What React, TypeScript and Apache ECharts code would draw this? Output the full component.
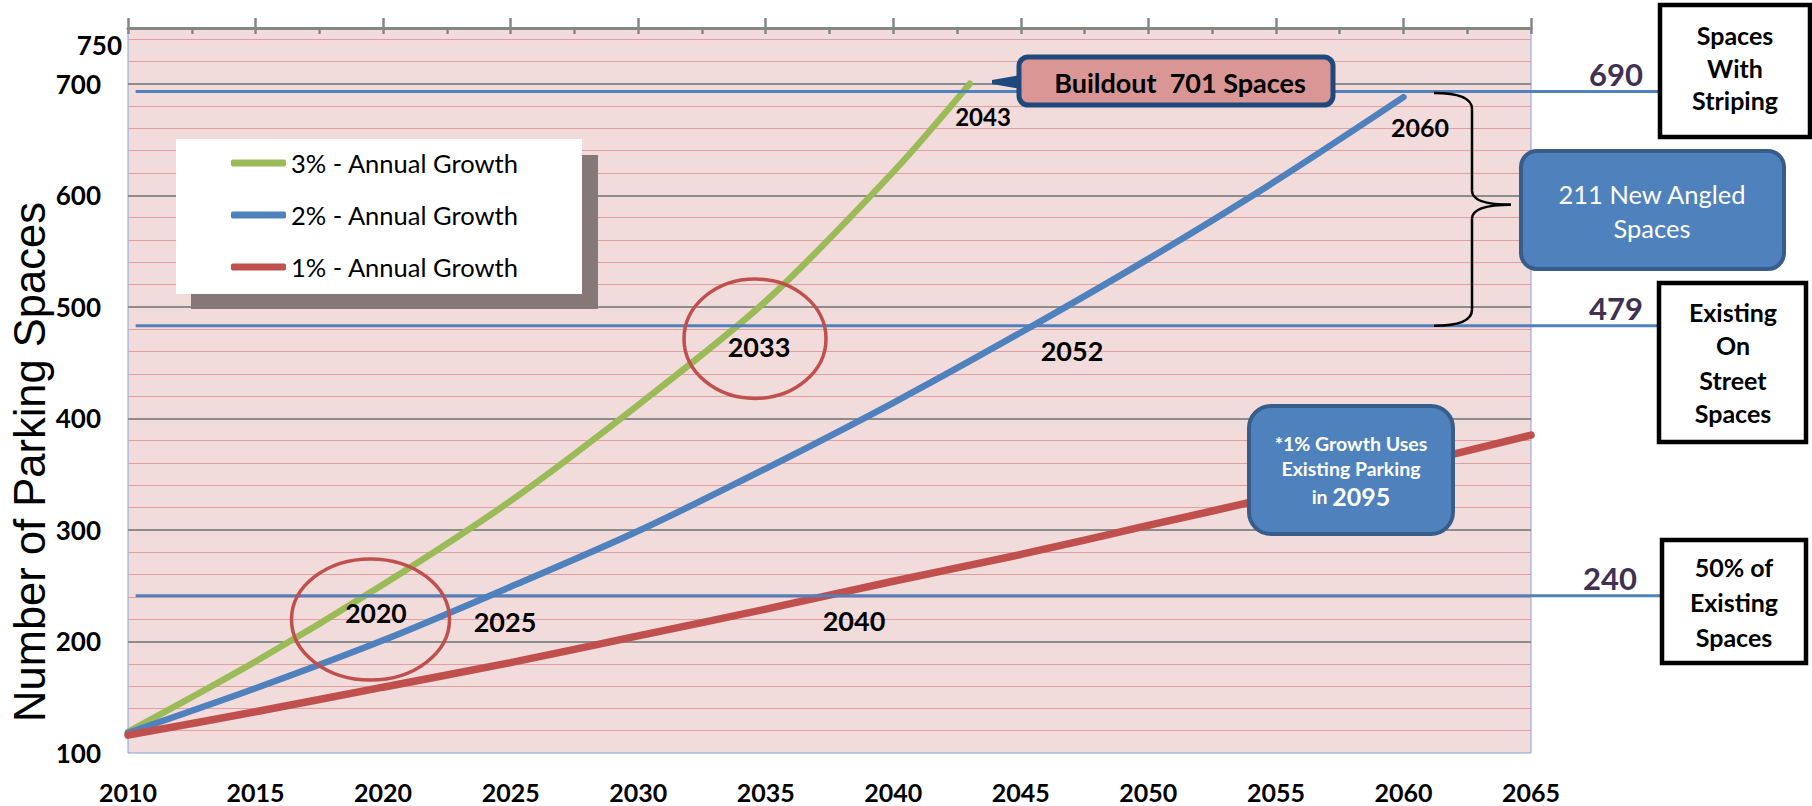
import { useEffect, useRef } from "react";
import * as echarts from "echarts";

// ---- data ----
const seriesNames = ["3% - Annual Growth", "2% - Annual Growth", "1% - Annual Growth"];
const seriesColors = ["#9BBB59", "#4F81BD", "#C0504D"];
const greenYears = [2010, 2015, 2020, 2025, 2030, 2035, 2040, 2043];
const greenValues = [119, 182, 251, 326, 412, 505, 621, 700];
const blueYears = [2010, 2015, 2020, 2025, 2030, 2035, 2040, 2045, 2050, 2055, 2060];
const blueValues = [118, 158, 201, 249, 299, 355, 414, 477, 543, 613, 688];
const redYears = [2010, 2015, 2020, 2025, 2030, 2035, 2040, 2045, 2050, 2055, 2060, 2065];
const redValues = [116, 137, 159, 181, 205, 229, 254, 278, 304, 330, 357, 385];

const refLevels = [693, 483, 241];
const refLabels = ["690", "479", "240"];
const boxTexts = [
  ["Spaces", "With", "Striping"],
  ["Existing", "On", "Street", "Spaces"],
  ["50% of", "Existing", "Spaces"],
];
const yearNotes = ["2020", "2025", "2033", "2040", "2043", "2052", "2060"];

const FONT = "Lato, 'Open Sans', sans-serif";

export default function App() {
  const ref = useRef<HTMLDivElement>(null);

  useEffect(() => {
    if (!ref.current) return;
    const chart = echarts.init(ref.current, null, { renderer: "svg" });

    const pairs = (xs: number[], ys: number[]) => xs.map((x, i) => [x, ys[i]]);
    const allData = [pairs(greenYears, greenValues), pairs(blueYears, blueValues), pairs(redYears, redValues)];
    const widths = [6.5, 6.5, 7.5];

    const option: any = {
      animation: false,
      backgroundColor: "#ffffff",
      grid: {
        left: 128,
        right: 281,
        top: 28,
        bottom: 53,
        show: true,
        backgroundColor: "#F2DCDB",
        borderColor: "#7FA6D6",
        borderWidth: 1,
      },
      legend: {
        show: true,
        data: seriesNames,
        orient: "vertical",
        left: 231,
        top: 149,
        padding: 0,
        itemWidth: 55,
        itemHeight: 7,
        itemGap: 24,
        icon: "roundRect",
        z: 6,
        textStyle: { fontFamily: FONT, fontSize: 25.5, color: "#000", lineHeight: 28 },
      },
      xAxis: [
        {
          type: "value",
          position: "bottom",
          min: 2010,
          max: 2065,
          interval: 5,
          axisLine: { show: false },
          axisTick: { show: false },
          splitLine: { show: false },
          axisLabel: {
            fontFamily: FONT,
            fontWeight: "bold",
            fontSize: 25,
            color: "#000",
            margin: 26,
            formatter: (v: number) => String(v),
          },
        },
        {
          type: "value",
          position: "top",
          min: 2010,
          max: 2065,
          interval: 5,
          axisLine: { show: true, lineStyle: { color: "#868686", width: 3 } },
          axisTick: { show: true, inside: false, length: 10, lineStyle: { color: "#868686", width: 2.5 } },
          axisLabel: { show: false },
          splitLine: { show: false },
        },
        {
          type: "value",
          position: "top",
          min: 2010,
          max: 2065,
          interval: 2.5,
          axisLine: { show: false },
          axisTick: { show: true, inside: true, length: 6, lineStyle: { color: "#868686", width: 2.5 } },
          axisLabel: { show: false },
          splitLine: { show: false },
        },
      ],
      yAxis: [
        {
          type: "value",
          min: 100,
          max: 750,
          interval: 100,
          z: 1,
          axisLine: { show: false },
          axisTick: { show: false },
          axisLabel: {
            showMaxLabel: false,
            fontFamily: FONT,
            fontWeight: "bold",
            fontSize: 26,
            color: "#000",
            margin: 27,
          },
          splitLine: { show: true, showMinLine: false, showMaxLine: false, lineStyle: { color: "#8C8C8C", width: 2 } },
        },
        {
          type: "value",
          min: 100,
          max: 750,
          interval: 20,
          z: 0,
          axisLine: { show: false },
          axisTick: { show: false },
          axisLabel: { show: false },
          splitLine: { show: true, showMinLine: false, showMaxLine: false, lineStyle: { color: "#E0A0A0", width: 1.2 } },
        },
      ],
      series: seriesNames.map((name, i) => ({
        name,
        type: "line",
        xAxisIndex: 0,
        yAxisIndex: 0,
        data: allData[i],
        showSymbol: false,
        symbol: "none",
        smooth: 0.3,
        z: 3,
        lineStyle: { color: seriesColors[i], width: widths[i], cap: "round" },
        itemStyle: { color: seriesColors[i] },
      })),
    };
    chart.setOption(option);

    const px = (x: number, y: number) =>
      chart.convertToPixel({ xAxisIndex: 0, yAxisIndex: 0 }, [x, y]) as number[];

    const txt = (text: string, x: number, y: number, size: number, opts: any = {}) => ({
      type: "text",
      z: opts.z ?? 9,
      rotation: opts.rotation ?? 0,
      x: opts.rotation ? x : 0,
      y: opts.rotation ? y : 0,
      style: {
        text,
        x: opts.rotation ? 0 : x,
        y: opts.rotation ? 0 : y,
        fill: opts.color ?? "#000",
        fontFamily: opts.family ?? FONT,
        fontSize: size,
        fontWeight: opts.weight ?? "bold",
        align: opts.align ?? "center",
        textAlign: opts.align ?? "center",
        verticalAlign: "middle",
        textVerticalAlign: "middle",
        rich: opts.rich,
      },
    });

    const els: any[] = [];

    // legend box and its shadow
    els.push({ type: "rect", z: 3, shape: { x: 191, y: 155, width: 407, height: 154 }, style: { fill: "#857876" } });
    els.push({ type: "rect", z: 3, shape: { x: 176, y: 139, width: 406, height: 155 }, style: { fill: "#FFFFFF" } });

    // reference lines
    const lineYs = refLevels.map((v) => px(2010, v)[1]);
    const lineX0 = px(2010.3, 100)[0];
    lineYs.forEach((y, i) => {
      els.push({
        type: "line",
        z: 5,
        shape: { x1: lineX0, y1: y, x2: 1660, y2: y },
        style: { stroke: "#4F81BD", lineWidth: 3 },
      });
      els.push(txt(refLabels[i], i === 2 ? 1637 : 1643, y - 18, 31, { color: "#403152", align: "right" }));
    });

    // right side boxes
    const boxes = [
      { x: 1660, y: 5, w: 150, h: 132, cx: 1735, lines: [35, 68, 100] },
      { x: 1659, y: 283, w: 147, h: 159, cx: 1733, lines: [312, 345, 380, 413] },
      { x: 1662, y: 540, w: 144, h: 123, cx: 1734, lines: [567, 602, 637] },
    ];
    boxes.forEach((b, i) => {
      els.push({
        type: "rect",
        z: 8,
        shape: { x: b.x, y: b.y, width: b.w, height: b.h },
        style: { fill: "#FFFFFF", stroke: "#000000", lineWidth: 4.5 },
      });
      boxTexts[i].forEach((t, j) => els.push(txt(t, b.cx, b.lines[j], 25)));
    });

    // brace between the 690 and 479 lines
    const yT = lineYs[0] + 1.5;
    const yB = lineYs[1];
    const yM = yT + (yB - yT) * 0.48;
    const xL = 1434, xV = 1472, xTip = 1511;
    const braceStyle = { stroke: "#000000", lineWidth: 2.5, fill: "none" };
    els.push({ type: "bezierCurve", z: 8, shape: { x1: xL, y1: yT, x2: xV, y2: yT + 16, cpx1: xV, cpy1: yT }, style: braceStyle });
    els.push({ type: "line", z: 8, shape: { x1: xV, y1: yT + 16, x2: xV, y2: yM - 14 }, style: braceStyle });
    els.push({ type: "bezierCurve", z: 8, shape: { x1: xV, y1: yM - 14, x2: xTip, y2: yM, cpx1: xV, cpy1: yM }, style: braceStyle });
    els.push({ type: "bezierCurve", z: 8, shape: { x1: xTip, y1: yM, x2: xV, y2: yM + 14, cpx1: xV, cpy1: yM }, style: braceStyle });
    els.push({ type: "line", z: 8, shape: { x1: xV, y1: yM + 14, x2: xV, y2: yB - 16 }, style: braceStyle });
    els.push({ type: "bezierCurve", z: 8, shape: { x1: xV, y1: yB - 16, x2: xL, y2: yB, cpx1: xV, cpy1: yB }, style: braceStyle });

    // 211 New Angled Spaces box
    els.push({
      type: "rect",
      z: 8,
      shape: { x: 1521, y: 151, width: 263, height: 118, r: 16 },
      style: { fill: "#4F81BD", stroke: "#385D8A", lineWidth: 4 },
    });
    els.push(txt("211 New Angled", 1652, 194, 25.5, { color: "#FFFFFF", weight: "normal" }));
    els.push(txt("Spaces", 1652, 228, 25.5, { color: "#FFFFFF", weight: "normal" }));

    // Buildout callout
    els.push({
      type: "polygon",
      z: 8,
      shape: { points: [[992, 80], [1021, 75], [1021, 89], [992, 84]] },
      style: { fill: "#1F497D" },
    });
    els.push({
      type: "rect",
      z: 8,
      shape: { x: 1019, y: 57, width: 314, height: 48, r: 9 },
      style: { fill: "#D99694", stroke: "#1F497D", lineWidth: 5 },
    });
    els.push(txt("Buildout  701 Spaces", 1180, 82, 27));

    // 1% growth callout
    els.push({
      type: "rect",
      z: 8,
      shape: { x: 1249, y: 406, width: 204, height: 128, r: 22 },
      style: { fill: "#4F81BD", stroke: "#385D8A", lineWidth: 4 },
    });
    els.push(txt("*1% Growth Uses", 1351, 443, 19.5, { color: "#FFFFFF" }));
    els.push(txt("Existing Parking", 1351, 468, 19.5, { color: "#FFFFFF" }));
    els.push(
      txt("{a|in }{b|2095}", 1351, 496, 19.5, {
        color: "#FFFFFF",
        rich: {
          a: { fontFamily: FONT, fontSize: 19.5, fontWeight: "bold", fill: "#FFFFFF", color: "#FFFFFF" },
          b: { fontFamily: FONT, fontSize: 25, fontWeight: "bold", fill: "#FFFFFF", color: "#FFFFFF" },
        },
      })
    );

    // ellipses
    els.push({ type: "ellipse", z: 8, shape: { cx: 370.5, cy: 619.5, rx: 79, ry: 60.5 }, style: { fill: "none", stroke: "#C0504D", lineWidth: 3.5 } });
    els.push({ type: "ellipse", z: 8, shape: { cx: 755, cy: 338.7, rx: 71, ry: 59.7 }, style: { fill: "none", stroke: "#C0504D", lineWidth: 3.5 } });

    // year annotations
    const notePos = [
      [376, 613, 26.5],
      [505, 621, 27],
      [759, 346, 27],
      [854, 620, 27],
      [983, 116, 24],
      [1072, 350, 27],
      [1420, 127, 25],
    ];
    yearNotes.forEach((t, i) => els.push(txt(t, notePos[i][0], notePos[i][1], notePos[i][2])));

    // y axis top label and name
    els.push(txt("750", 122, 45, 26, { align: "right" }));
    els.push(
      txt("Number of Parking Spaces", 30, 462, 43.5, {
        rotation: Math.PI / 2,
        weight: "normal",
        family: "'Liberation Sans', Arial, sans-serif",
      })
    );

    chart.setOption({ graphic: { elements: els } });

    return () => chart.dispose();
  }, []);

  return (
    <div
      ref={ref}
      style={{ position: "absolute", left: 0, top: 0, width: 1812, height: 806, background: "#fff" }}
    />
  );
}
